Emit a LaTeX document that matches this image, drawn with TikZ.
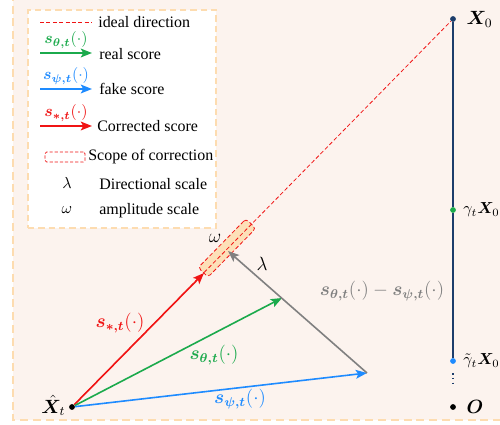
\documentclass[tikz,border=0pt]{standalone}
\usepackage{amsmath,amssymb,bm}
\usepackage{fontspec}
\setmainfont{Liberation Serif}
\usetikzlibrary{arrows.meta,positioning}
\definecolor{bgpeach}{HTML}{FCF3EE}
\definecolor{frameorange}{HTML}{FDDCB0}
\definecolor{scopefill}{HTML}{FDE0B8}
\definecolor{realgreen}{HTML}{1BAA4C}
\definecolor{fakeblue}{HTML}{1E8BFF}
\definecolor{corrred}{HTML}{F01414}
\definecolor{diffgray}{HTML}{808080}
\definecolor{axisnavy}{HTML}{1C3D6B}
\begin{document}
\begin{tikzpicture}[x=0.022cm,y=-0.022cm,>={Stealth[length=7pt,width=5.5pt,inset=1.5pt]},
 vec/.style={->,line width=1pt},
 dot/.style={circle,fill,inner sep=0pt,minimum size=3.6pt},
 ideal/.style={corrred,line width=0.5pt,dash pattern=on 2.5pt off 1.5pt},
 scopebox/.style={draw=corrred,fill=scopefill,line width=0.5pt,dash pattern=on 2.5pt off 1.5pt,
  rounded corners=2pt,inner sep=0pt},
 legtext/.style={anchor=west,inner sep=0pt},
 biglbl/.style={font=\large}]
\useasboundingbox (0,0) rectangle (500,425);
\clip (0,0) rectangle (500,425);
% background and legend frame
\draw[frameorange,fill=bgpeach,line width=1.3pt,dash pattern=on 5pt off 3pt] (13,-20) rectangle (530,420);
\node[draw=frameorange,fill=white,line width=0.9pt,dash pattern=on 4pt off 2.5pt,
 minimum width=4.14cm,minimum height=4.8cm,inner sep=0pt] (legend) at (122,119) {};
% legend entries
\coordinate (la1) at (40,22); \coordinate (lb1) at (92,22);
\coordinate (la2) at (40,53); \coordinate (lb2) at (92,53);
\coordinate (la3) at (40,89); \coordinate (lb3) at (92,89);
\coordinate (la4) at (40,126); \coordinate (lb4) at (92,126);
\draw[ideal] (la1) -- (lb1);
\draw[vec,realgreen] (la2) -- node[above=-1pt]{$\bm{s_{\theta,t}}(\cdot)$} (lb2);
\draw[vec,fakeblue] (la3) -- node[above=-1pt]{$\bm{s_{\psi,t}}(\cdot)$} (lb3);
\draw[vec,corrred] (la4) -- node[above=-1pt]{$\bm{s_{*,t}}(\cdot)$} (lb4);
\node[legtext] (t1) at (98,22) {ideal direction};
\node[legtext] (t2) at (99,54) {real score};
\node[legtext] (t3) at (99,89) {fake score};
\node[legtext] (t4) at (97,126) {Corrected score};
\node[draw=corrred,line width=0.5pt,dash pattern=on 2pt off 1.2pt,rounded corners=1pt,
 minimum width=0.88cm,minimum height=0.22cm,inner sep=0pt] (lscope) at (65,157) {};
\node[legtext] (t5) at (88,157) {Scope of correction};
\node (llam) at (67,183) {$\lambda$};
\node[legtext] (t6) at (99,184) {Directional scale};
\node (lome) at (67,210) {$\omega$};
\node[legtext] (t7) at (99,211) {amplitude scale};
% axis from O to X0
\node[dot,axisnavy] (X0) at (453,19) {};
\node[dot,realgreen] (gX) at (453,210) {};
\node[dot,fakeblue] (gtX) at (453,361) {};
\node[dot,black] (O) at (453,407) {};
\draw[axisnavy,line width=1.4pt] (X0) -- (gX) -- (gtX);
\coordinate (da) at (453,373); \coordinate (db) at (453,387);
\draw[axisnavy,line width=1pt,dotted] (da) -- (db);
\node[biglbl,right=3pt of X0] {$\bm{X}_0$};
\node[right=1pt of gX] {$\gamma_t\bm{X}_0$};
\node[right=1pt of gtX] {$\tilde{\gamma}_t\bm{X}_0$};
\node[biglbl,right=3pt of O] {$\bm{O}$};
% scores
\node[dot,black] (Xh) at (72,407) {};
\node[biglbl,left=1pt of Xh,yshift=1pt,inner sep=1pt] {$\hat{\bm{X}}_t$};
\node[scopebox,rotate=45.6,minimum width=1.5cm,minimum height=0.3cm] (sc) at (227,248) {};
\draw[ideal] (Xh) -- (X0);
\coordinate (rT) at (204,273);
\coordinate (gT) at (282,298);
\coordinate (bT) at (367,373);
\coordinate (lT) at (228,251);
\draw[vec,corrred] (Xh) -- (rT);
\draw[vec,realgreen] (Xh) -- (gT);
\draw[vec,fakeblue] (Xh) -- (bT);
\draw[vec,diffgray] (bT) -- (lT);
\node[biglbl,corrred] (lred) at (120,323) {$\bm{s_{*,t}}(\cdot)$};
\node[biglbl,realgreen] (lgreen) at (214,355) {$\bm{s_{\theta,t}}(\cdot)$};
\node[biglbl,fakeblue] (lblue) at (240,399) {$\bm{s_{\psi,t}}(\cdot)$};
\node[biglbl,diffgray] (lgray) at (382,291) {$\bm{s_{\theta,t}}(\cdot)-\bm{s_{\psi,t}}(\cdot)$};
\node[biglbl] (lam) at (262,264) {$\lambda$};
\node[biglbl] (ome) at (215,238) {$\omega$};
\end{tikzpicture}
\end{document}
